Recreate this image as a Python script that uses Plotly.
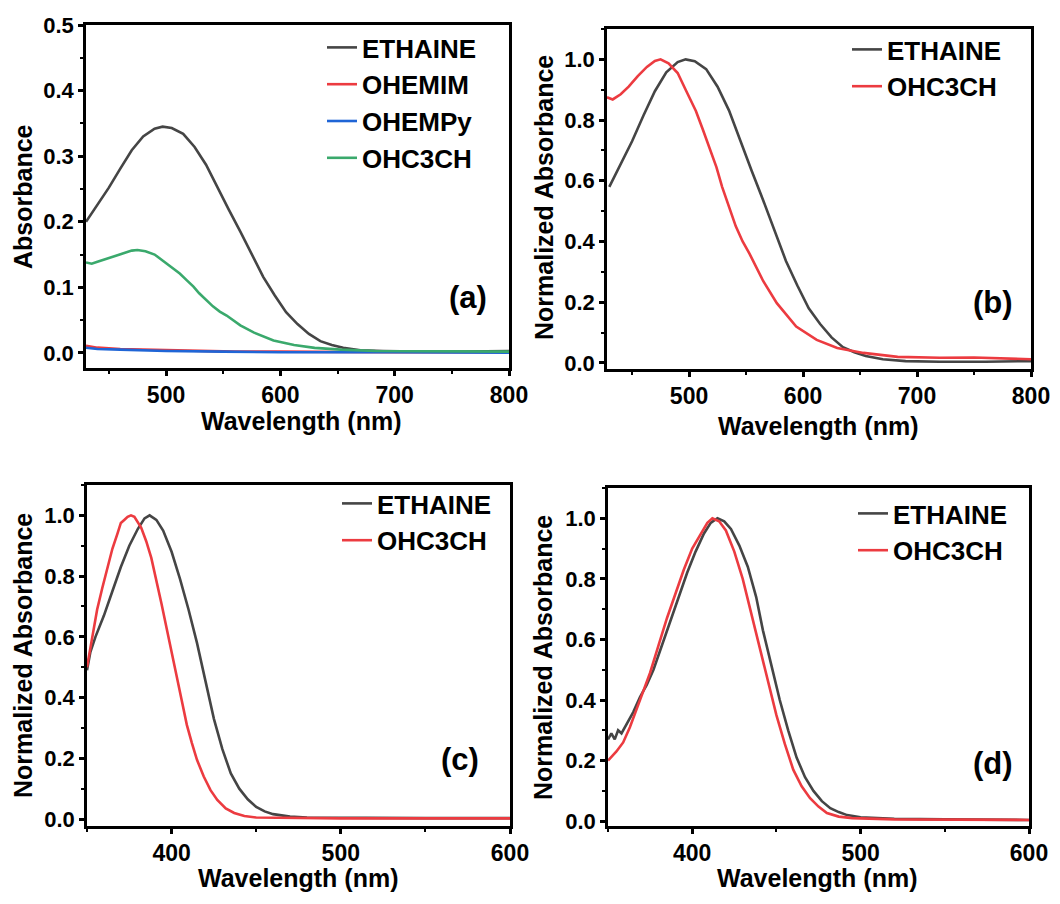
import plotly.graph_objects as go

# ---------------- data ----------------
# Panel (a): absorbance
a_eth_wl = [430, 440, 450, 460, 470, 480, 490, 497, 505, 515, 525, 535, 545, 555, 565, 575, 585, 595, 605, 615, 625, 635, 645, 655, 670, 690, 720, 760, 800]
a_eth_ab = [0.200, 0.226, 0.252, 0.281, 0.309, 0.330, 0.342, 0.345, 0.343, 0.334, 0.314, 0.287, 0.252, 0.218, 0.185, 0.150, 0.116, 0.088, 0.062, 0.044, 0.029, 0.018, 0.012, 0.008, 0.004, 0.003, 0.002, 0.002, 0.003]
a_ohemim_wl = [430, 440, 460, 480, 500, 530, 560, 600, 650, 700, 800]
a_ohemim_ab = [0.011, 0.008, 0.006, 0.005, 0.004, 0.003, 0.002, 0.002, 0.001, 0.001, 0.001]
a_ohempy_wl = [430, 440, 460, 480, 500, 550, 600, 700, 800]
a_ohempy_ab = [0.008, 0.006, 0.005, 0.004, 0.003, 0.002, 0.001, 0.001, 0.0005]
a_ohc_wl = [430, 435, 440, 447, 455, 463, 470, 475, 482, 490, 497, 506, 512, 518, 524, 529, 535, 541, 547, 553, 565, 577, 594, 612, 630, 653, 683, 720, 750, 800]
a_ohc_ab = [0.138, 0.136, 0.139, 0.143, 0.148, 0.153, 0.156, 0.157, 0.155, 0.150, 0.141, 0.130, 0.121, 0.111, 0.101, 0.091, 0.081, 0.071, 0.063, 0.057, 0.042, 0.031, 0.019, 0.012, 0.0077, 0.005, 0.003, 0.0027, 0.0028, 0.002]

# Panel (b): normalized
b_eth_wl = [430, 440, 450, 460, 470, 480, 490, 497, 505, 515, 525, 535, 545, 555, 565, 575, 585, 595, 605, 615, 625, 635, 645, 655, 670, 690, 720, 760, 800]
b_eth_ab = [0.58, 0.655, 0.73, 0.815, 0.895, 0.957, 0.991, 1.0, 0.994, 0.968, 0.91, 0.832, 0.73, 0.632, 0.536, 0.435, 0.336, 0.255, 0.18, 0.128, 0.084, 0.052, 0.035, 0.023, 0.012, 0.006, 0.004, 0.004, 0.006]
b_ohc_wl = [428, 433, 440, 447, 455, 463, 470, 475, 482, 490, 497, 506, 512, 518, 524, 529, 535, 541, 547, 553, 565, 577, 594, 612, 630, 653, 683, 720, 750, 800]
b_ohc_ab = [0.875, 0.868, 0.885, 0.91, 0.945, 0.975, 0.995, 1.0, 0.987, 0.955, 0.90, 0.83, 0.77, 0.71, 0.645, 0.58, 0.515, 0.45, 0.40, 0.36, 0.27, 0.197, 0.12, 0.076, 0.049, 0.033, 0.02, 0.017, 0.018, 0.012]

# Panel (c): normalized
c_eth_wl = [350, 352, 355, 360, 365, 370, 375, 380, 384, 387, 391, 395, 400, 405, 410, 415, 420, 425, 430, 435, 440, 445, 450, 455, 460, 470, 480, 500, 550, 600]
c_eth_ab = [0.49, 0.55, 0.60, 0.67, 0.75, 0.83, 0.90, 0.955, 0.99, 1.0, 0.985, 0.95, 0.88, 0.79, 0.69, 0.58, 0.455, 0.33, 0.23, 0.15, 0.10, 0.065, 0.04, 0.025, 0.016, 0.008, 0.005, 0.004, 0.003, 0.003]
c_ohc_wl = [350, 353, 356, 359, 362, 365, 368, 370, 372, 374, 376, 378, 382, 385, 388, 391, 394, 397, 400, 403, 406, 409, 412, 415, 419, 423, 427, 432, 437, 443, 450, 470, 500, 600]
c_ohc_ab = [0.50, 0.60, 0.69, 0.76, 0.83, 0.89, 0.94, 0.975, 0.985, 0.995, 1.0, 0.995, 0.96, 0.915, 0.86, 0.79, 0.71, 0.63, 0.545, 0.47, 0.39, 0.31, 0.25, 0.195, 0.14, 0.095, 0.063, 0.035, 0.02, 0.01, 0.005, 0.003, 0.002, 0.002]

# Panel (d): normalized
d_eth_wl = [350, 352, 354, 356, 358, 361, 365, 369, 373, 377, 382, 387, 392, 397, 402, 407, 411, 415, 419, 423, 428, 433, 438, 442, 447, 452, 457, 462, 467, 472, 477, 482, 487, 492, 500, 520, 550, 600]
d_eth_ab = [0.27, 0.29, 0.27, 0.30, 0.29, 0.32, 0.36, 0.41, 0.45, 0.50, 0.58, 0.66, 0.74, 0.82, 0.89, 0.95, 0.985, 1.0, 0.99, 0.965, 0.91, 0.84, 0.74, 0.63, 0.515, 0.40, 0.30, 0.21, 0.145, 0.10, 0.066, 0.043, 0.03, 0.02, 0.013, 0.008, 0.006, 0.004]
d_ohc_wl = [350, 355, 359, 363, 367, 371, 375, 380, 385, 390, 395, 400, 405, 409, 412, 416, 420, 425, 430, 435, 440, 445, 450, 455, 460, 465, 470, 475, 480, 487, 495, 520, 560, 600]
d_ohc_ab = [0.20, 0.23, 0.26, 0.31, 0.37, 0.43, 0.49, 0.58, 0.67, 0.75, 0.83, 0.90, 0.95, 0.985, 1.0, 0.99, 0.96, 0.89, 0.80, 0.69, 0.58, 0.465, 0.35, 0.255, 0.17, 0.115, 0.076, 0.048, 0.027, 0.015, 0.01, 0.006, 0.005, 0.004]

names = ["ETHAINE", "OHEMIM", "OHEMPy", "OHC3CH"]
panel_labels = ["(a)", "(b)", "(c)", "(d)"]
x_title = "Wavelength (nm)"
y_titles = ["Absorbance", "Normalized Absorbance", "Normalized Absorbance", "Normalized Absorbance"]

# ---------------- styling ----------------
C_BLACK = "#454545"
C_RED = "#ec3b40"
C_BLUE = "#1f65d6"
C_GREEN = "#3aa96c"
FONT = "Arial, 'Liberation Sans', sans-serif"
PAGE_OFF = 8            # the page body adds an 8 px margin
W, H = 1060 - 2 * PAGE_OFF, 904 - 2 * PAGE_OFF


def fx(p):
    return (p - PAGE_OFF) / W


def fy(p):
    return 1 - (p - PAGE_OFF) / H


fig = go.Figure()
LW = 2.6


def add(x, y, name, color, ax, legend):
    fig.add_trace(go.Scatter(x=x, y=y, name="<b>" + name + "</b>", mode="lines",
                             line=dict(color=color, width=LW),
                             xaxis="x" + ax, yaxis="y" + ax, legend=legend,
                             legendgroup=name + ax))


add(a_eth_wl, a_eth_ab, names[0], C_BLACK, "", "legend")
add(a_ohemim_wl, a_ohemim_ab, names[1], C_RED, "", "legend")
add(a_ohempy_wl, a_ohempy_ab, names[2], C_BLUE, "", "legend")
add(a_ohc_wl, a_ohc_ab, names[3], C_GREEN, "", "legend")
add(b_eth_wl, b_eth_ab, names[0], C_BLACK, "2", "legend2")
add(b_ohc_wl, b_ohc_ab, names[3], C_RED, "2", "legend2")
add(c_eth_wl, c_eth_ab, names[0], C_BLACK, "3", "legend3")
add(c_ohc_wl, c_ohc_ab, names[3], C_RED, "3", "legend3")
add(d_eth_wl, d_eth_ab, names[0], C_BLACK, "4", "legend4")
add(d_ohc_wl, d_ohc_ab, names[3], C_RED, "4", "legend4")

panels = [
    dict(xd=(86, 509), yd=(25, 368), xr=(430, 800), yr=(-0.023, 0.5), ydt=0.1, ymn=0.05,
         leg=(322, 24), lab=(468, 297), xt=(301, 421), yt=(23, 197)),
    dict(xd=(607, 1031), yd=(29, 369), xr=(428, 800), yr=(-0.02, 1.1), ydt=0.2, ymn=0.1,
         leg=(847, 26), lab=(993, 302), xt=(818, 426), yt=(544, 198)),
    dict(xd=(87, 510), yd=(485, 826), xr=(350, 600), yr=(-0.023, 1.1), ydt=0.2, ymn=0.1,
         leg=(337, 480), lab=(460, 759), xt=(298, 878), yt=(23, 656)),
    dict(xd=(608, 1029), yd=(488, 826), xr=(350, 600), yr=(-0.016, 1.1), ydt=0.2, ymn=0.1,
         leg=(853, 490), lab=(993, 763), xt=(817, 878), yt=(543, 658)),
]

ytickfont = dict(family=FONT, size=22, color="black", weight="bold")
xtickfont = dict(family=FONT, size=23, color="black", weight="bold")
titlefont = dict(family=FONT, size=25, color="black", weight="bold")

layout = dict(template="none", width=W, height=H, margin=dict(l=0, r=0, t=0, b=0, autoexpand=False),
              paper_bgcolor="white", plot_bgcolor="white", showlegend=True)
annotations = []
for i, p in enumerate(panels):
    sfx = "" if i == 0 else str(i + 1)
    common = dict(showline=True, linewidth=2.6, linecolor="black", mirror=True,
                  ticks="outside", ticklen=5, tickwidth=2.6, tickcolor="black",
                  showgrid=False, zeroline=False, automargin=False,
                  tickprefix="<b>", ticksuffix="</b>")
    layout["xaxis" + sfx] = dict(
        domain=[fx(p["xd"][0]), fx(p["xd"][1])], range=list(p["xr"]), anchor="y" + sfx,
        dtick=100, tick0=0, tickfont=xtickfont,
        minor=dict(ticks="outside", ticklen=3, tickwidth=2, tickcolor="black", dtick=50, tick0=0),
        **common)
    layout["yaxis" + sfx] = dict(
        domain=[fy(p["yd"][1]), fy(p["yd"][0])], range=list(p["yr"]), anchor="x" + sfx,
        dtick=p["ydt"], tick0=0, tickformat=".1f", tickfont=ytickfont,
        minor=dict(ticks="outside", ticklen=3, tickwidth=2, tickcolor="black", dtick=p["ymn"], tick0=0),
        **common)
    layout["legend" + sfx] = dict(
        x=fx(p["leg"][0]), y=fy(p["leg"][1]), xanchor="left", yanchor="top",
        bgcolor="rgba(0,0,0,0)", borderwidth=0, tracegroupgap=0,
        font=dict(family=FONT, size=26, color="black", weight="bold"))
    annotations.append(dict(text="<b>" + panel_labels[i] + "</b>", x=fx(p["lab"][0]), y=fy(p["lab"][1]),
                            xref="paper", yref="paper", xanchor="center", yanchor="middle",
                            showarrow=False, font=dict(family=FONT, size=31, color="black")))
    annotations.append(dict(text="<b>" + x_title + "</b>", x=fx(p["xt"][0]), y=fy(p["xt"][1]),
                            xref="paper", yref="paper", xanchor="center", yanchor="middle",
                            showarrow=False, font=titlefont))
    annotations.append(dict(text="<b>" + y_titles[i] + "</b>", x=fx(p["yt"][0]), y=fy(p["yt"][1]),
                            xref="paper", yref="paper", xanchor="center", yanchor="middle",
                            textangle=-90, showarrow=False, font=titlefont))
layout["annotations"] = annotations
fig.update_layout(**layout)

fig.write_html("out.html")
